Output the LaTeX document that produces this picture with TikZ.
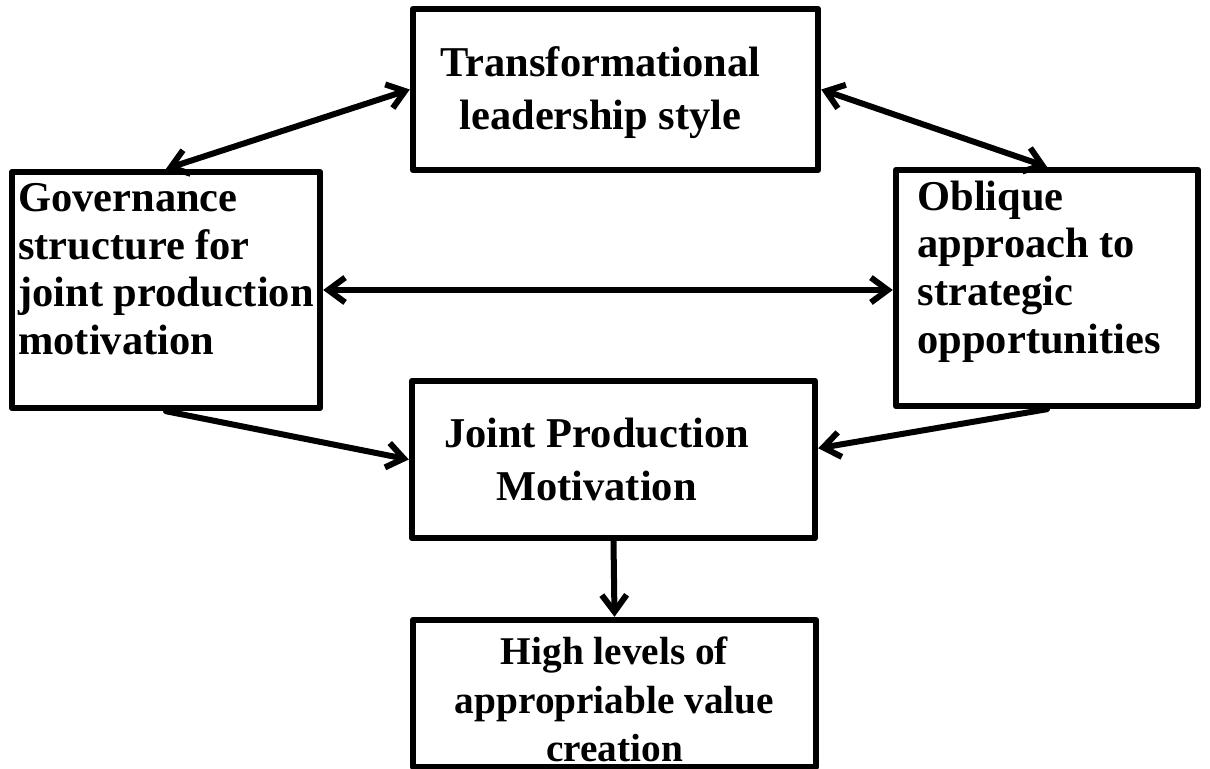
\documentclass[tikz,border=0pt]{standalone}
\usepackage{fontspec}
\setmainfont{Liberation Serif}
\usetikzlibrary{arrows.meta, positioning, calc}
\newlength\unitpx
\setlength\unitpx{0.025cm}

\begin{document}
\begin{tikzpicture}[x=0.025cm, y=-0.025cm,
		box/.style={draw, line width=0.16cm, line join=round, inner sep=0pt,
			font=\fontsize{30.2}{33.9}\selectfont\bfseries},
		link/.style={line width=0.15cm, line cap=round},
		>={Straight Barb[length=0.42cm, width=0.62cm]}]
	\useasboundingbox (0,0) rectangle (1210,769);
	\node[box, minimum width=405\unitpx, minimum height=161\unitpx, align=center] (trans) at (615.5,89.5)
		{\rule{0pt}{0.9cm}Transformational\hspace*{0.75cm}\\[0.15cm]leadership style\hspace*{0.75cm}};
	\node[box, minimum width=308\unitpx, minimum height=236\unitpx, align=left] (gov) at (166,290)
		{Governance\\structure for\\joint production\\motivation\rule[-1.05cm]{0pt}{0pt}};
	\node[box, minimum width=302\unitpx, minimum height=236\unitpx, align=left] (obl) at (1047,288)
		{Oblique\\approach to\\strategic\\opportunities\hspace*{0.4cm}\rule[-1.05cm]{0pt}{0pt}};
	\node[box, minimum width=403\unitpx, minimum height=157\unitpx, align=center] (joint) at (613.5,459.5)
		{Joint Production\hspace*{0.85cm}\\[0.15cm]Motivation\hspace*{0.85cm}};
	\node[box, minimum width=403\unitpx, minimum height=147\unitpx, align=center,
		font=\fontsize{27.95}{34.4}\selectfont\bfseries] (high) at (614.5,693.5)
		{\rule{0pt}{1cm}High levels of\\appropriable value\\creation};
	\draw[link, <->] (gov.north) -- (trans.west);
	\draw[link, <->] (trans.east) -- (obl.north);
	\draw[link, <->] (gov.east) -- (gov.east -| obl.west);
	\draw[link, ->] (gov.south) -- (joint.west);
	\draw[link, ->] (obl.south) -- ([yshift=0.28cm]joint.east);
	\draw[link, ->] (joint.south) -- (high.north);
\end{tikzpicture}
\end{document}
